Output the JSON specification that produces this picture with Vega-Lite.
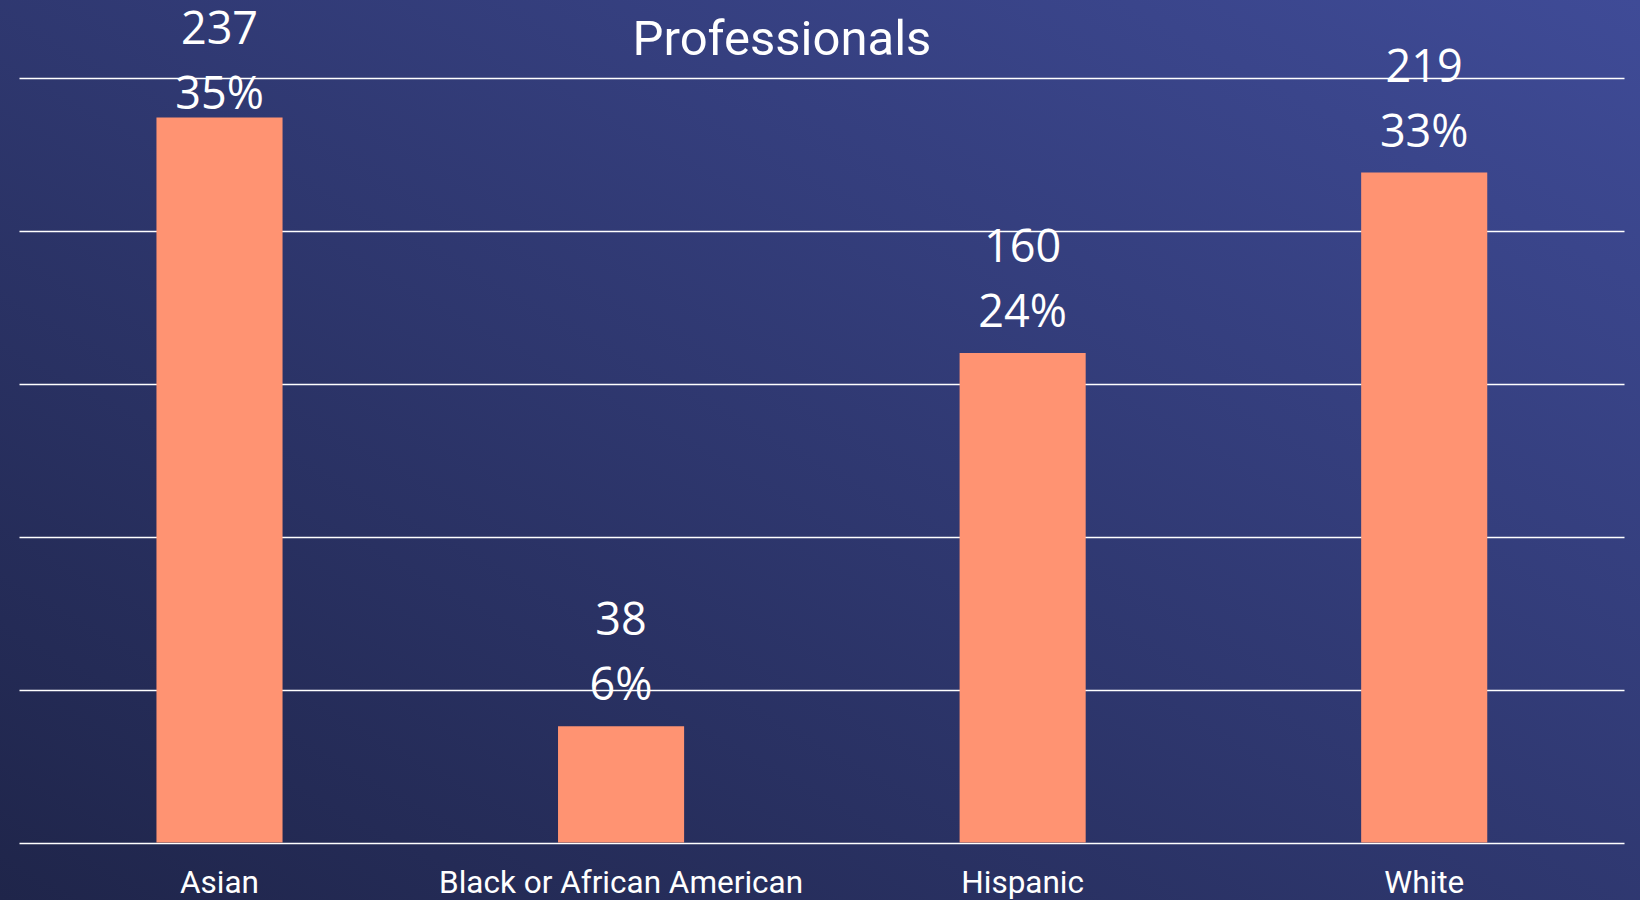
{
  "$schema": "https://vega.github.io/schema/vega-lite/v6.json",
  "width": 1640,
  "height": 900,
  "padding": 0,
  "autosize": {"type": "none"},
  "background": "#2c3566",
  "view": {
    "stroke": null,
    "fill": {
      "gradient": "linear",
      "x1": 0, "y1": 1, "x2": 1, "y2": 0,
      "stops": [
        {"offset": 0, "color": "#1f254a"},
        {"offset": 1, "color": "#3f4b97"}
      ]
    }
  },
  "config": {"font": "Roboto"},
  "title": {
    "text": "Professionals",
    "font": "Roboto",
    "fontSize": 49,
    "fontWeight": "normal",
    "color": "#ffffff",
    "anchor": "middle",
    "frame": "group",
    "orient": "top",
    "offset": 0,
    "baseline": "alphabetic",
    "dy": 104,
    "dx": -38
  },
  "datasets": {
    "bars": [
      {"group": "Asian", "count": 237, "pct": "35%"},
      {"group": "Black or African American", "count": 38, "pct": "6%"},
      {"group": "Hispanic", "count": 160, "pct": "24%"},
      {"group": "White", "count": 219, "pct": "33%"}
    ]
  },
  "data": {"name": "bars"},
  "encoding": {
    "x": {
      "field": "group",
      "type": "nominal",
      "sort": null,
      "scale": {"paddingInner": 0.686, "paddingOuter": 0.385, "align": 0.506},
      "axis": {
        "title": null,
        "domain": false,
        "ticks": false,
        "tickSize": 0,
        "labelAngle": 0,
        "labelFont": "Roboto",
        "labelFontSize": 31.5,
        "labelColor": "#ffffff",
        "labelBaseline": "alphabetic",
        "labelPadding": -8,
        "labelLimit": 0,
        "labelOverlap": false,
        "grid": false
      }
    },
    "y": {
      "field": "count",
      "type": "quantitative",
      "scale": {"domain": [-18.76, 275.39], "nice": false, "zero": false},
      "axis": {
        "title": null,
        "orient": "left",
        "labels": false,
        "ticks": false,
        "domain": false,
        "grid": true,
        "values": [0, 50, 100, 150, 200, 250],
        "gridColor": "#ffffff",
        "gridWidth": 1.5,
        "gridOpacity": 1,
        "gridDash": [1605, 200],
        "gridDashOffset": 1786
      }
    }
  },
  "layer": [
    {
      "mark": {"type": "bar", "color": "#FF9372"},
      "encoding": {"y2": {"datum": 0}}
    },
    {
      "transform": [{"filter": "datum.count < 230"}],
      "mark": {"type": "text", "font": "Open Sans", "fontSize": 45, "color": "#ffffff", "baseline": "alphabetic", "align": "center", "dy": -26},
      "encoding": {"text": {"field": "pct"}}
    },
    {
      "transform": [{"filter": "datum.count < 230"}],
      "mark": {"type": "text", "font": "Open Sans", "fontSize": 45, "color": "#ffffff", "baseline": "alphabetic", "align": "center", "dy": -91},
      "encoding": {"text": {"field": "count"}}
    },
    {
      "transform": [{"filter": "datum.count >= 230"}],
      "mark": {"type": "text", "font": "Open Sans", "fontSize": 45, "color": "#ffffff", "baseline": "alphabetic", "align": "center", "dy": -8},
      "encoding": {"text": {"field": "pct"}}
    },
    {
      "transform": [{"filter": "datum.count >= 230"}],
      "mark": {"type": "text", "font": "Open Sans", "fontSize": 45, "color": "#ffffff", "baseline": "alphabetic", "align": "center", "dy": -73},
      "encoding": {"text": {"field": "count"}}
    }
  ]
}
